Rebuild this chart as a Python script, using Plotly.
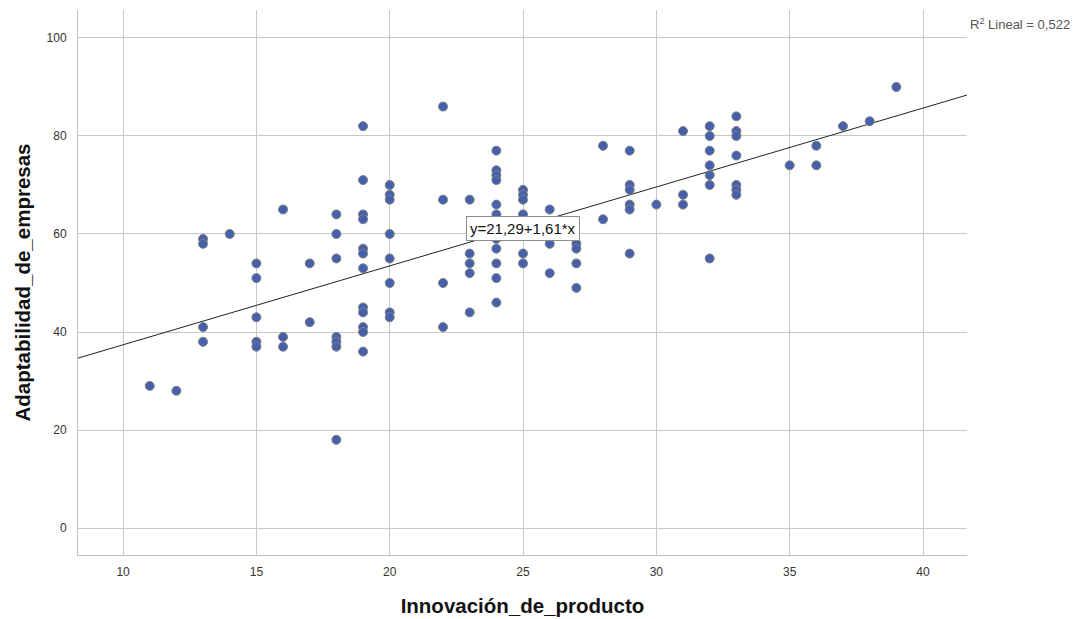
import plotly.graph_objects as go

# Data
innovacion = (
    [11] + [12] + [13] * 4 + [14] + [15] * 5 + [16] * 3 + [17] * 2 + [18] * 7 +
    [19] * 12 + [20] * 8 + [22] * 4 + [23] * 5 + [24] * 12 + [25] * 7 +
    [26] * 4 + [27] * 4 + [28] * 2 + [29] * 6 + [30] + [31] * 3 + [32] * 7 +
    [33] * 7 + [35] + [36] * 2 + [37] + [38] + [39]
)
adaptabilidad = (
    [29] + [28] + [59, 58, 41, 38] + [60] + [54, 51, 43, 38, 37] + [65, 39, 37] +
    [54, 42] + [64, 60, 55, 39, 38, 37, 18] +
    [82, 71, 64, 63, 57, 56, 53, 45, 44, 41, 40, 36] +
    [70, 68, 67, 60, 55, 50, 44, 43] + [86, 67, 50, 41] + [67, 56, 54, 52, 44] +
    [77, 73, 72, 71, 66, 64, 62, 59, 57, 54, 51, 46] +
    [69, 68, 67, 64, 62, 56, 54] + [65, 58, 52, 60] + [58, 57, 54, 49] +
    [78, 63] + [77, 70, 69, 66, 65, 56] + [66] + [81, 68, 66] +
    [82, 80, 77, 74, 72, 70, 55] + [84, 81, 80, 76, 70, 69, 68] +
    [74] + [78, 74] + [82] + [83] + [90]
)

intercept = 21.29
slope = 1.61
r2_text = "R<sup>2</sup> Lineal = 0,522"
eq_text = "y=21,29+1,61*x"

x_range = [8.31, 41.65]
y_range = [-5.5, 105.7]
x_ticks = [10, 15, 20, 25, 30, 35, 40]
y_ticks = [0, 20, 40, 60, 80, 100]

fit_x = x_range
fit_y = [intercept + slope * v for v in fit_x]

fig = go.Figure()
fig.add_trace(go.Scatter(
    x=fit_x, y=fit_y, mode="lines",
    line=dict(color="#222222", width=1),
    hoverinfo="skip", showlegend=False,
))
fig.add_trace(go.Scatter(
    x=innovacion, y=adaptabilidad, mode="markers",
    marker=dict(size=9, color="#4560ad", line=dict(color="#808080", width=1)),
    showlegend=False,
))

fig.add_annotation(
    x=25.0, y=61.2, xref="x", yref="y", text=eq_text, showarrow=False,
    font=dict(family="Liberation Sans, Arial", size=15, color="#111111"),
    bgcolor="white", bordercolor="#8c8c8c", borderwidth=1, borderpad=3,
)
fig.add_annotation(
    x=1.0, y=0.974, xref="paper", yref="paper", text=r2_text, showarrow=False,
    xanchor="left", yanchor="middle", xshift=1,
    font=dict(family="Liberation Sans, Arial", size=13, color="#555555"),
)

axis_common = dict(
    showgrid=True, gridcolor="#c8c8c8", gridwidth=1, automargin=False,
    zeroline=False, showline=True, linecolor="#c0c0c0", linewidth=1,
    ticks="", tickfont=dict(family="Liberation Sans, Arial", size=12, color="#333333"),
)
fig.update_xaxes(
    range=x_range, tickvals=x_ticks, ticklabelstandoff=6,
    title=dict(text="Innovación_de_producto", standoff=20,
               font=dict(family="Liberation Sans, Arial", size=20.5, color="#111111",
                         weight="bold")),
    **axis_common,
)
fig.update_yaxes(
    range=y_range, tickvals=y_ticks, ticklabelstandoff=8,
    title=dict(text="Adaptabilidad_de_empresas", standoff=10,
               font=dict(family="Liberation Sans, Arial", size=20.5, color="#111111",
                         weight="bold")),
    **axis_common,
)
fig.update_layout(
    width=1076, height=611,
    margin=dict(l=70, r=117, t=2, b=64),
    plot_bgcolor="white", paper_bgcolor="white",
)
fig.write_html("out.html")
